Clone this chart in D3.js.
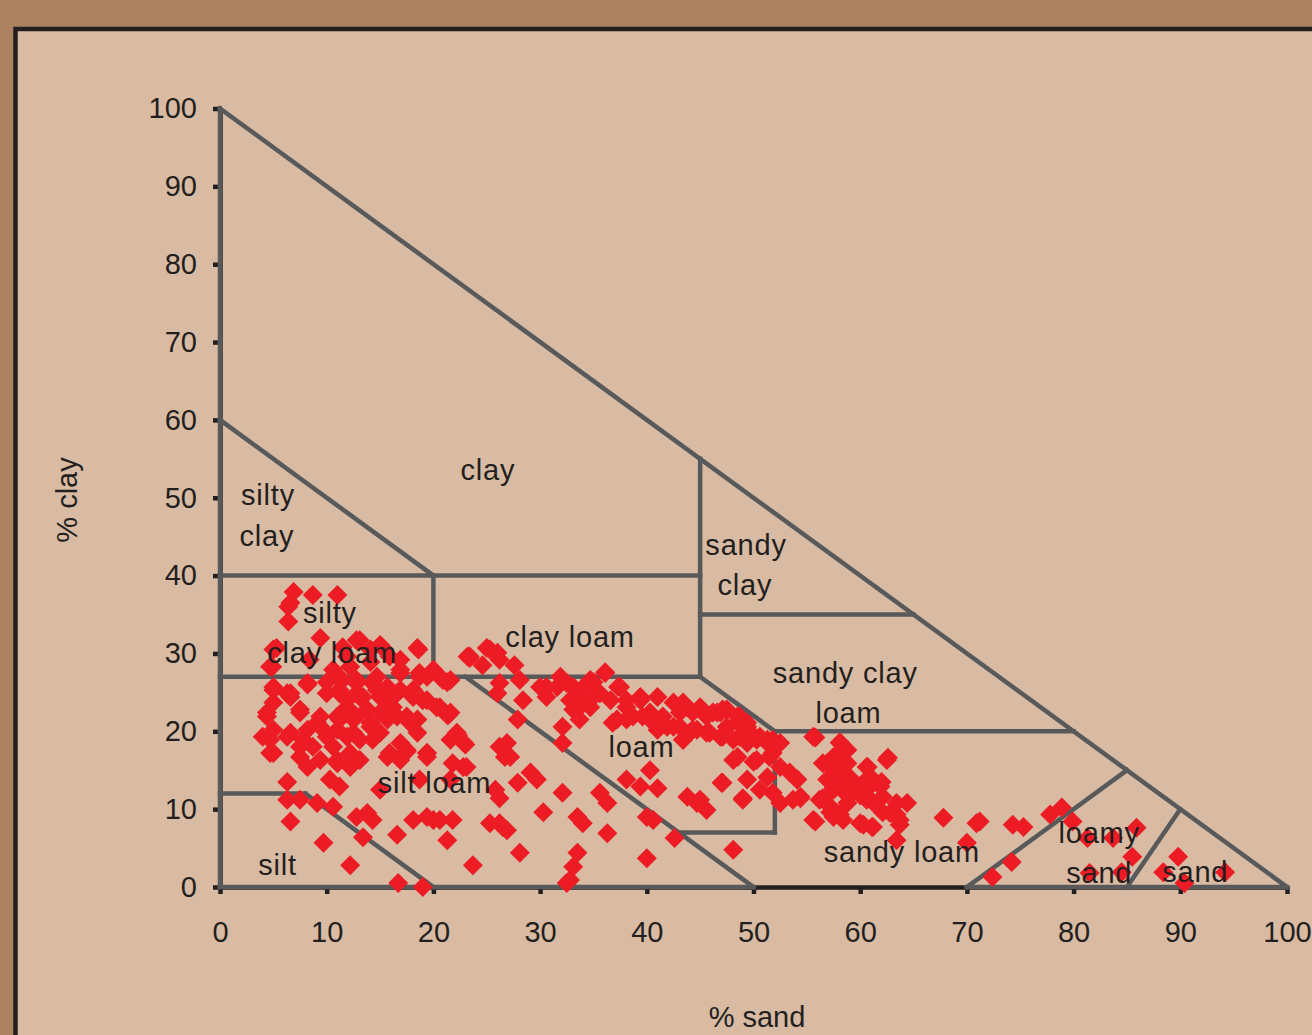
<!DOCTYPE html>
<html>
<head>
<meta charset="utf-8">
<script src="https://cdn.jsdelivr.net/npm/d3@7"></script>
<style>
  html, body { margin: 0; padding: 0; background: #ad8260; }
  svg { display: block; font-family: "Liberation Sans", Arial, sans-serif; }
</style>
</head>
<body>
<div id="chart"></div>
<script>
// tick values for both axes
const ticks = [0, 10, 20, 30, 40, 50, 60, 70, 80, 90, 100];

// soil samples: [% sand, % clay]
const samples = [
  [6.9,37.9],[8.7,37.5],[11,37.5],[6.4,36],[6.6,36.5],[6.4,34.1],[9.4,32],[13.1,31.7],[12.8,31.7],[15.2,30.8],
  [15,31.1],[18.6,30.5],[5.3,30.7],[5,30.5],[4.7,28.3],[4.9,28.3],[8.4,29.2],[11.9,29.6],[16.9,29.2],[20,27.9],
  [21.3,26.3],[8.2,26],[8.2,26.2],[10,26.3],[11.5,26.6],[12.8,26.2],[14.3,26.2],[15.7,25.7],[16.9,25.3],[5,25.3],
  [6.3,24.9],[6.6,24.9],[11.2,24.9],[13.1,24.4],[15,24.4],[18.1,24.4],[19.4,24],[4.4,22.4],[7.5,22.8],[11.9,23.1],
  [13.8,22.8],[15.7,23.1],[17.5,21.9],[21.3,22.1],[5,20.2],[6.6,19.8],[8.2,20.2],[9.4,20.6],[11,20.2],[12.5,19.8],
  [14.1,21.1],[15.7,21.5],[22.2,19.8],[22.8,18.6],[4,19.3],[7.5,18],[8.7,18],[10.6,18],[12.2,17.2],[14.3,18.9],
  [15.9,17.2],[16.9,16.3],[4.7,17.2],[17.5,17.4],[19.4,17.2],[8.2,15.4],[11,15.9],[12.2,15.4],[13.1,16.3],[23.1,15.4],
  [26.2,18],[27.2,16.7],[6.3,13.5],[10.3,13.8],[11.2,12.9],[15,12.5],[18.7,13.8],[21.6,13.8],[6.3,11.2],[7.5,11.2],
  [9.1,10.8],[10.6,10.3],[12.8,9],[13.8,9.5],[14.3,8.6],[6.6,8.4],[18.1,8.6],[20,8.6],[21.8,8.6],[25.3,8.2],
  [26.5,7.7],[9.7,5.7],[13.4,6.4],[16.6,6.7],[21.3,6],[12.2,2.8],[23.7,2.8],[16.7,0.5],[19,0],
  [10.6,27.9],[12.2,28.3],[14.1,28.9],[15.9,29.6],[16.9,27.9],[18.7,27.5],[20.9,26.6],[23.4,29.6],[11.2,25.3],[12.8,24.9],
  [14.7,25.3],[16.6,24.9],[18.1,25.3],[20.6,23.1],[9.4,21.9],[11.2,21.5],[12.8,21.9],[15,22.4],[16.6,21.9],[18.5,21.5],
  [11.5,30.8],[14.1,30.5],[18.5,30.7],[5,25.7],[11,27],[12.8,26.6],[14.7,27],[16.9,27.5],[18.7,27],[20.6,27],
  [21.6,26.6],[5,23.7],[6.6,24.4],[10,24.9],[11.9,24],[13.4,24.4],[15.7,24.9],[16.2,23.1],[19,24],[20.3,23.1],
  [4.4,21.9],[7.5,22.4],[9.1,21.1],[11,21.9],[12.5,21.5],[14.1,20.6],[15.7,21.9],[17.8,21.1],[21.4,22.1],[4.7,18.9],
  [6.3,19.3],[7.8,18.9],[10,19.3],[11.9,19.3],[13.1,18.9],[15,19.8],[16.9,18.5],[18.5,19.8],[21.6,18.9],[5,17.2],
  [7.5,16.7],[9.4,16.3],[11,16.3],[12.8,16.3],[15.7,16.7],[17.5,17.6],[19.4,16.7],[21.8,15.9],
  [23.4,29.4],[25.3,30.5],[24.6,28.5],[26.2,29.2],[27.6,28.5],[26.2,26.2],[28.1,26.6],[30,25.7],[31.6,25.7],[26,24.9],
  [28.4,24],[30.6,24.4],[32.5,26.2],[34,25.6],[35,26.3],[36.1,27.6],[32.8,24],[33.7,23.1],[35,24.4],[36.6,24],
  [37.5,25.7],[38.1,24],[39.4,24.4],[41,24.4],[42.5,23.7],[43.4,23.7],[45,23.1],[46.6,22.4],[47.5,22.8],[36.8,21.1],
  [38.1,21.5],[39.6,21.9],[40.6,21.1],[41.9,20.6],[43.1,20.6],[44.3,20.2],[45.6,19.8],[46.9,19.3],[48.5,21.1],[49.4,20.2],
  [50.6,19.3],[51.8,18.9],[21.6,22.4],[27.9,21.5],[32.1,20.6],[32.1,18.5],[26.9,18.5],[43.4,18.9],[23.2,29.6],[25,30.7],
  [26,30.1],[19.4,27],[22.3,19.5],[23,18.3],[26.7,16.7],[19.4,17.2],[22.8,15.4],[37.2,21.5],[38.7,21.9],[40.3,15],
  [38.1,13.8],[39.4,12.9],[41,12.7],[35.6,12.1],[36.3,10.8],[32.1,12.1],[33.5,9],[34,8.2],[30.3,9.6],[27.9,13.4],
  [29.1,14.7],[29.7,13.8],[25.8,12.5],[26.2,11.4],[26.2,8.2],[26.9,7.3],[28.1,4.4],[33.5,4.4],[33.1,2.6],[32.5,0.5],
  [32.8,0.9],[36.3,6.9],[40,9],[40.6,8.6],[40,3.7],[42.6,6.3],[48.1,4.8],[43.8,11.6],[44.7,10.8],[45.6,9.9],
  [47,13.4],[49,11.4],[49.4,13.8],[50.3,16.3],[51.3,14.1],[48.5,16.7],[49.4,18.5],[20.6,8.6],[19.4,9],
  [31.9,27],[30.6,25.7],[33.1,25.7],[34.7,26.6],[36.1,27.5],[34,24.4],[35.6,24.9],[37.3,25.7],[33.1,22.8],[34.7,23.1],
  [33.7,21.5],[38.1,23.1],[39.4,24],[40.3,22.4],[41.5,21.9],[43.1,22.4],[44.3,22.4],[45.6,21.9],[46.9,22.4],[41,20.2],
  [42.5,20.6],[43.4,18.9],[44.7,20.2],[45.9,19.8],[47.5,20.6],[48.5,21.9],[49.4,21.1],[48.7,19.3],[50.3,18.9],[51.3,18.5],
  [51.8,17.2],
  [43.8,23.1],[46.2,22.4],[47.1,22.8],[48.7,21.9],[49.4,20.6],[44,19.8],[47.1,19.3],[48.1,18.9],[49.7,19.8],[51.3,18.9],
  [52.5,18.5],[48.1,16.3],[50,16.1],[51.5,16.7],[52.5,15.4],[53.4,14.7],[54.1,13.8],[47.1,13.4],[50.6,12.5],[51.8,12.1],
  [52.5,10.8],[53.7,11.2],[54.4,11.6],[49,11.2],[45,11.2],[55.6,19.3],[58.1,18.6],[57.5,16.7],[58.8,17.6],[56.5,15.9],
  [57.8,15],[59,14.1],[60.6,15.4],[62.5,16.3],[56.9,13.8],[57.5,12.5],[58.4,12.9],[59.3,12.1],[60.3,13.4],[61.2,13.8],
  [61.9,12.9],[62.1,11.6],[56.2,11.2],[57.2,10.3],[58.8,10.8],[60.6,11.2],[63.4,10.8],[64.4,10.8],[55.6,8.6],[57.5,9],
  [58.4,8.6],[60,8.2],[61.2,7.7],[62.8,9.5],[63.7,8.6],[63.4,6],[67.8,8.9],[70,5.7],[70.9,8.2],
  [55.8,19.2],[58.1,18.5],[58.1,17.2],[56.9,15.9],[58.8,15.9],[60.7,15.4],[62.6,16.6],[58.1,14.4],[59.3,13.5],[54.1,13.8],
  [60.9,12.9],[62,13.5],[54.4,11.4],[56.5,11.4],[57.5,12.7],[58.8,11.8],[60,11.8],[61.2,10.9],[62.1,9.6],[63.4,9.3],
  [57.2,9.6],[58.1,9.3],[55.8,8.4],[60.3,8],[61.1,7.7],[63.7,8],
  [71.2,8.4],[72.4,1.3],[74.2,3.2],[74.3,8],[75.3,7.7],[77.8,9.3],[78.9,10.2],[79.9,8.4],[81.3,6.3],[83.7,6.3],
  [85.9,7.6],[85.5,3.9],[84.5,1.9],[81.5,1.8],[89.8,3.9],[88.4,1.9],[90.4,0.5],[94.2,1.9]
];

// texture class boundaries, segments in [sand, clay]
const boundaries = [
  [[0,0],[0,100]], [[0,100],[100,0]],
  [[0,0],[50,0]], [[70,0],[100,0]],
  [[0,60],[20,40]], [[0,40],[45,40]], [[20,40],[20,27]], [[0,27],[45,27]],
  [[45,27],[45,55]], [[45,35],[65,35]], [[45,27],[52,20]], [[52,20],[80,20]],
  [[52,20],[52,7]], [[52,7],[43,7]], [[23,27],[50,0]],
  [[0,12],[8,12]], [[8,12],[20,0]],
  [[70,0],[85,15]], [[85,0],[90,10]]
];

// class names, anchored at [sand, clay]
const classLabels = [
  ["clay", 25.1, 52.3],
  ["silty", 4.5, 49.1], ["clay", 4.4, 43.8],
  ["sandy", 49.3, 42.7], ["clay", 49.2, 37.5],
  ["silty", 10.3, 33.9], ["clay loam", 10.5, 28.8],
  ["clay loam", 32.8, 30.8],
  ["sandy clay", 58.6, 26.2], ["loam", 58.9, 21.1],
  ["loam", 39.5, 16.7],
  ["silt loam", 20.1, 12.1],
  ["silt", 5.4, 1.5],
  ["sandy loam", 63.9, 3.2],
  ["loamy", 82.4, 5.7], ["sand", 82.4, 0.5],
  ["sand", 91.4, 0.6]
];

const W = 1312, H = 1035;
const ink = "#231f20", grey = "#58595b";

const svg = d3.select("#chart").append("svg")
  .attr("width", W).attr("height", H);

svg.append("rect").attr("width", W).attr("height", H).attr("fill", "#ad8260");
svg.append("rect")
  .attr("x", 15.5).attr("y", 29).attr("width", W + 20).attr("height", H + 20)
  .attr("fill", "#d8bba2").attr("stroke", ink).attr("stroke-width", 4.5);

const x = d3.scaleLinear().domain([0, 100]).range([220, 1287]);
const y = d3.scaleLinear().domain([0, 100]).range([887, 108.5]);

// axes
const xAxis = svg.append("g")
  .attr("transform", `translate(0,${y(0)})`)
  .call(d3.axisBottom(x).tickValues(ticks).tickSize(7).tickSizeOuter(0).tickPadding(27));
const yAxis = svg.append("g")
  .attr("transform", `translate(${x(0)},0)`)
  .call(d3.axisLeft(y).tickValues(ticks).tickSize(7).tickSizeOuter(0).tickPadding(16));

[xAxis, yAxis].forEach(g => {
  g.select(".domain").attr("stroke", ink).attr("stroke-width", 4.5);
  g.selectAll(".tick line").attr("stroke", ink).attr("stroke-width", 4.5);
  g.selectAll(".tick text")
    .attr("fill", ink).attr("font-size", 29)
    .attr("font-family", "Liberation Sans, Arial, sans-serif");
});

// class boundaries
svg.append("g").selectAll("line")
  .data(boundaries).enter().append("line")
  .attr("x1", d => x(d[0][0])).attr("y1", d => y(d[0][1]))
  .attr("x2", d => x(d[1][0])).attr("y2", d => y(d[1][1]))
  .attr("stroke", grey).attr("stroke-width", 4.5).attr("stroke-linecap", "square");

// samples
const diamond = d3.symbol().type(d3.symbolSquare).size(200);
svg.append("g").selectAll("path")
  .data(samples).enter().append("path")
  .attr("d", diamond)
  .attr("transform", d => `translate(${x(d[0])},${y(d[1])}) rotate(45)`)
  .attr("fill", "#ed1c24");

// class names
svg.append("g").selectAll("text")
  .data(classLabels).enter().append("text")
  .attr("x", d => x(d[1])).attr("y", d => y(d[2]))
  .attr("text-anchor", "middle")
  .attr("font-size", 29).attr("letter-spacing", 0.8).attr("fill", ink)
  .text(d => d[0]);

// axis titles
svg.append("text")
  .attr("x", 757).attr("y", 1027)
  .attr("text-anchor", "middle").attr("font-size", 29).attr("fill", ink)
  .text("% sand");
svg.append("text")
  .attr("transform", "translate(77,500) rotate(-90)")
  .attr("text-anchor", "middle").attr("font-size", 29).attr("fill", ink)
  .text("% clay");
</script>
</body>
</html>
